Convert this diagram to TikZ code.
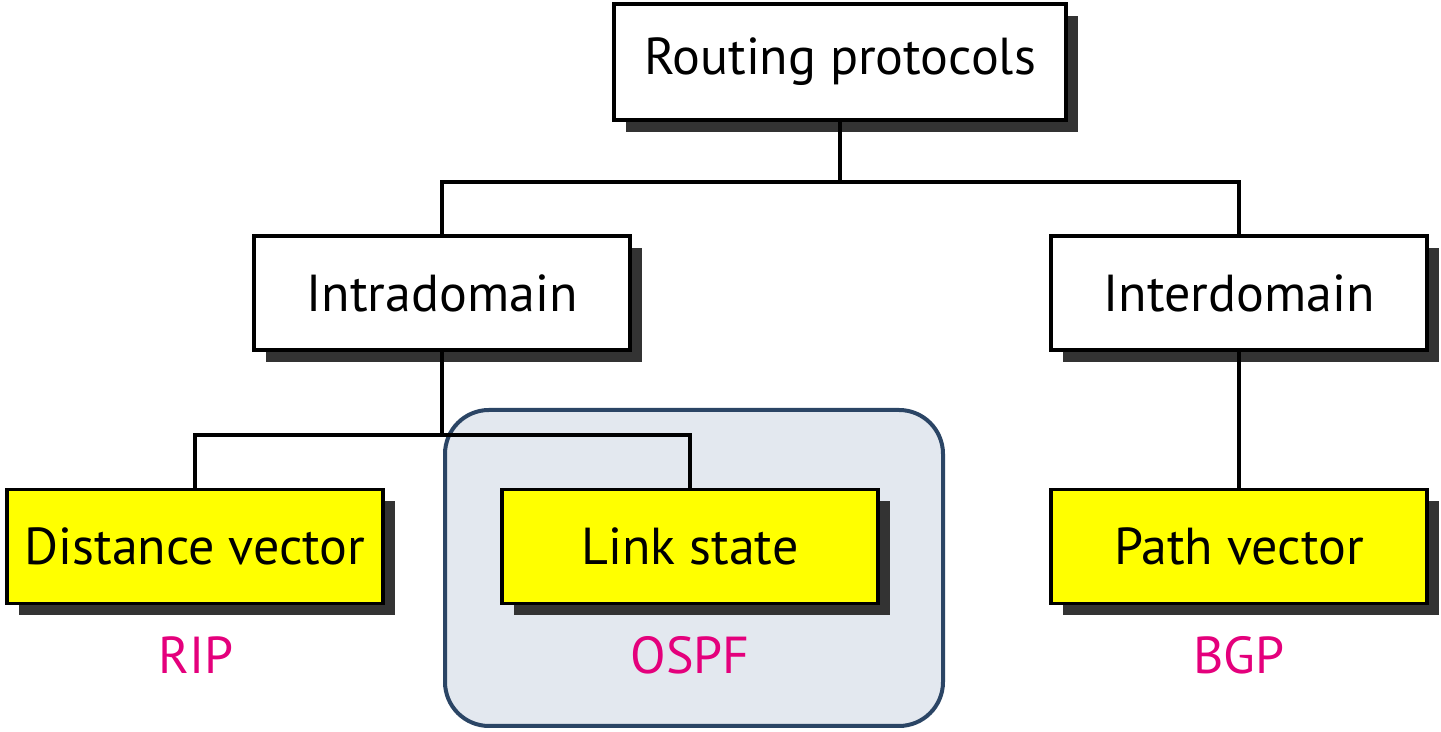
\documentclass[tikz,border=0pt]{standalone}
\usepackage{fontspec}
\setsansfont{PT Sans}
\usetikzlibrary{shadows}
\definecolor{rippink}{RGB}{228,0,124}
\definecolor{areablue}{RGB}{43,69,101}
\definecolor{areafill}{RGB}{227,232,239}
\definecolor{boxyellow}{RGB}{255,255,0}
\tikzset{>=stealth,
  protobox/.style={draw, line width=1.6pt, fill=white, inner sep=0pt,
    minimum width=188pt, minimum height=57pt, font=\sffamily\fontsize{26}{31}\selectfont,
    drop shadow={shadow xshift=6pt, shadow yshift=-6pt, fill=black!80, opacity=1}},
  algbox/.style={protobox, fill=boxyellow},
  protolabel/.style={text=rippink, font=\sffamily\fontsize{26}{31}\selectfont},
  link/.style={line width=2pt}}

\begin{document}
\begin{tikzpicture}
\useasboundingbox (0,0) rectangle (720.5pt,366pt);
% OSPF area behind the link state box
\node[draw=areablue, fill=areafill, line width=2pt, rounded corners=22pt,
  minimum width=249pt, minimum height=158pt] (area) at (347pt,82pt) {};

\node[protobox, minimum width=226pt, minimum height=58pt] (routing) at (420pt,335pt) {Routing protocols};
\node[protobox] (intra) at (221pt,219.5pt) {Intradomain};
\node[protobox] (inter) at (619.5pt,219.5pt) {Interdomain};
\node[algbox] (dv) at (97.5pt,92.75pt) {Distance vector};
\node[algbox] (ls) at (345pt,92.75pt) {Link state};
\node[algbox] (pv) at (619.5pt,92.75pt) {Path vector};

\node[protolabel] (rip) at (98pt,38.5pt) {RIP};
\node[protolabel] (ospf) at (345pt,38.5pt) {OSPF};
\node[protolabel] (bgp) at (619.5pt,38.5pt) {BGP};

% tree
\draw[link] (routing.south) -- ++(0,-30pt) coordinate (top) -| (intra.north);
\draw[link] (top) -| (inter.north);
\draw[link] (intra.south) -- ++(0,-41.5pt) coordinate (mid) -| (dv.north);
\draw[link] (mid) -| (ls.north);
\draw[link] (inter.south) -- (pv.north);
\end{tikzpicture}
\end{document}
